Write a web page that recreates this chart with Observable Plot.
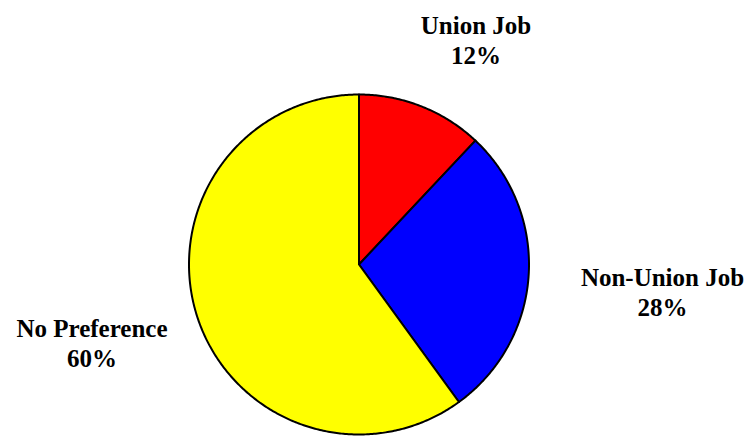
<!DOCTYPE html>
<html>
<head>
<meta charset="utf-8">
<script src="https://cdn.jsdelivr.net/npm/d3@7"></script>
<script src="https://cdn.jsdelivr.net/npm/@observablehq/plot@0.6"></script>
<style>
  html, body { margin: 0; padding: 0; background: #fff; }
</style>
</head>
<body>
<div id="chart"></div>
<script>
// Data
const categories = ["Union Job", "Non-Union Job", "No Preference"];
const shares = [12, 28, 60];
const colors = ["#ff0000", "#0000ff", "#ffff00"];

// Layout (pixels)
const W = 751, H = 436;
const cx = 358.5, cy = 264, R = 170;
const labelPos = [
  {x: 475.5, y: 12},
  {x: 662, y: 264},
  {x: 91.5, y: 315}
];

const pie = d3.pie().sort(null).value(d => d)(shares);
const slicePts = [];
pie.forEach((a, i) => {
  const n = Math.max(2, Math.ceil((a.endAngle - a.startAngle) / 0.01));
  slicePts.push({k: i, x: cx, y: cy, c: colors[i]});
  for (let j = 0; j <= n; j++) {
    const t = a.startAngle + (a.endAngle - a.startAngle) * j / n;
    slicePts.push({k: i, x: cx + R * Math.sin(t), y: cy - R * Math.cos(t), c: colors[i]});
  }
  slicePts.push({k: i, x: cx, y: cy, c: colors[i]});
});

const labels = categories.map((c, i) => ({
  text: c + "\n" + shares[i] + "%",
  x: labelPos[i].x,
  y: labelPos[i].y
}));

const chart = Plot.plot({
  width: W,
  height: H,
  margin: 0,
  x: {domain: [0, W], range: [0, W], axis: null},
  y: {domain: [0, H], range: [0, H], axis: null},
  style: {background: "#fff"},
  marks: [
    Plot.line(slicePts, {
      x: "x", y: "y", z: "k", fill: "c",
      stroke: "#000", strokeWidth: 2, strokeLinejoin: "round", curve: "linear"
    }),
    Plot.text(labels, {
      x: "x", y: "y", text: "text",
      textAnchor: "middle", lineAnchor: "top", lineHeight: 1.2,
      fontFamily: "'Liberation Serif', 'Times New Roman', serif",
      fontWeight: "bold", fontSize: 25, fill: "#000"
    })
  ]
});
document.getElementById("chart").appendChild(chart);
</script>
</body>
</html>
